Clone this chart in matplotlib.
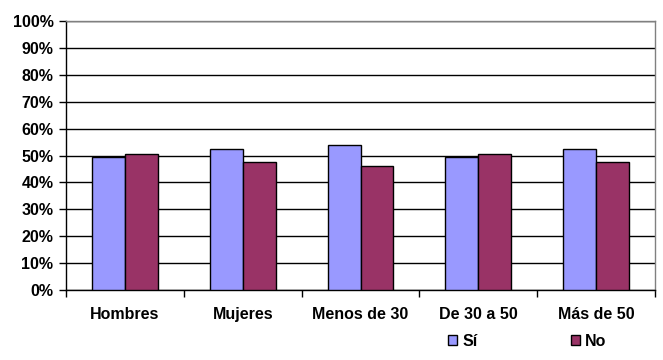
import numpy as np
import matplotlib.pyplot as plt

categories = ['Hombres', 'Mujeres', 'Menos de 30', 'De 30 a 50', 'Más de 50']
si_values = [49.4, 52.4, 54.0, 49.4, 52.4]
no_values = [50.6, 47.6, 46.0, 50.6, 47.6]
y_ticks = list(range(0, 101, 10))

plt.rcParams['font.family'] = ['Liberation Sans', 'DejaVu Sans']
fs = 11.5

fig = plt.figure(figsize=(6.63, 3.60), dpi=100)
ax = fig.add_axes([66 / 663, 1 - 290 / 360, 589 / 663, 269 / 360])

x = np.arange(len(categories))
w = 0.28
ax.bar(x - w / 2, si_values, w, color='#9999FF', edgecolor='black', linewidth=1, label='Sí', zorder=3)
ax.bar(x + w / 2, no_values, w, color='#993366', edgecolor='black', linewidth=1, label='No', zorder=3)

ax.set_xlim(-0.5, len(categories) - 0.5)
ax.set_ylim(0, 100)
ax.set_yticks(y_ticks)
ax.set_yticklabels([f'{v}%' for v in y_ticks], fontsize=fs, fontweight='bold')
ax.yaxis.grid(True, color='black', linewidth=1, zorder=0)
ax.set_axisbelow(True)

ax.set_xticks(x)
ax.set_xticklabels(categories, fontsize=fs, fontweight='bold')
ax.tick_params(axis='x', which='major', length=0, pad=12)
ax.set_xticks(np.arange(-0.5, len(categories), 1), minor=True)
ax.tick_params(axis='x', which='minor', length=5, width=1, direction='out')
ax.tick_params(axis='y', length=5, width=1, direction='out', pad=4)

for side in ['top', 'right']:
    ax.spines[side].set_color('#808080')
for side in ['left', 'bottom']:
    ax.spines[side].set_color('black')
for s in ax.spines.values():
    s.set_linewidth(1)

fig.legend(loc='center', bbox_to_anchor=(0.795, 1 - 341 / 360), ncol=2, frameon=False,
           prop={'size': fs, 'weight': 'bold'}, handlelength=0.6, handleheight=0.6,
           handletextpad=0.3, columnspacing=5.85)

fig.savefig('out.png', dpi=100)
